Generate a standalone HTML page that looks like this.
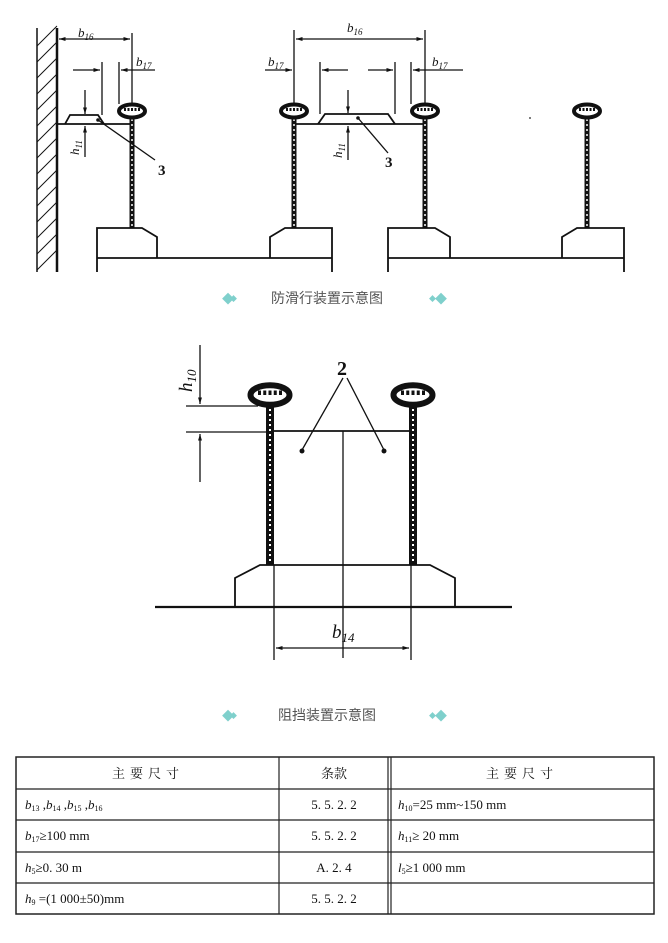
<!DOCTYPE html>
<html><head><meta charset="utf-8"><style>
html,body{margin:0;padding:0;background:#fff;}
body{width:668px;height:943px;overflow:hidden;position:relative;}
svg{position:absolute;left:0;top:0;}
text{font-family:"Liberation Serif","Noto Serif CJK SC",serif;fill:#111;}
.cap{font-family:"Liberation Sans","Noto Sans CJK SC",sans-serif;fill:#555;font-size:14px;}
</style></head><body>
<svg width="668" height="943" viewBox="0 0 668 943">
<defs>
<marker id="ar" viewBox="0 0 10 10" refX="10" refY="5" markerWidth="7" markerHeight="5" orient="auto-start-reverse"><path d="M0,2 L10,5 L0,8 z" fill="#111"/></marker>
<g id="rail">
 <ellipse cx="0" cy="0" rx="13" ry="6.5" fill="#fff" stroke="#111" stroke-width="4"/>
 <path d="M-8,-1.5 H8" stroke="#111" stroke-width="3" stroke-dasharray="2 1.5"/>
</g>
</defs>
<g stroke="#111" fill="none" stroke-width="1.3">
<line x1="37" y1="28" x2="37" y2="272" stroke-width="1.5"/>
<line x1="57" y1="28" x2="57" y2="272" stroke-width="2.5"/>
<g stroke-width="1">
<line x1="37" y1="46" x2="57" y2="26"/><line x1="37" y1="62" x2="57" y2="42"/><line x1="37" y1="78" x2="57" y2="58"/><line x1="37" y1="94" x2="57" y2="74"/><line x1="37" y1="110" x2="57" y2="90"/><line x1="37" y1="126" x2="57" y2="106"/><line x1="37" y1="142" x2="57" y2="122"/><line x1="37" y1="158" x2="57" y2="138"/><line x1="37" y1="174" x2="57" y2="154"/><line x1="37" y1="190" x2="57" y2="170"/><line x1="37" y1="206" x2="57" y2="186"/><line x1="37" y1="222" x2="57" y2="202"/><line x1="37" y1="238" x2="57" y2="218"/><line x1="37" y1="254" x2="57" y2="234"/><line x1="37" y1="270" x2="57" y2="250"/>
</g>
<line x1="57" y1="124" x2="132" y2="124" stroke-width="1.8"/>
<line x1="294" y1="124" x2="425" y2="124" stroke-width="1.8"/>
<path d="M65,124 L70,115 L98,115 L104,124" stroke-width="1.8"/>
<path d="M318,124 L325,114 L388,114 L395,124" stroke-width="1.8"/>
<g stroke-width="5"><line x1="132" y1="112" x2="132" y2="228"/><line x1="294" y1="112" x2="294" y2="228"/><line x1="425" y1="112" x2="425" y2="228"/><line x1="587" y1="112" x2="587" y2="228"/></g>
<g stroke="#fff" stroke-width="1.5" stroke-dasharray="2 3"><line x1="132" y1="114" x2="132" y2="226"/><line x1="294" y1="114" x2="294" y2="226"/><line x1="425" y1="114" x2="425" y2="226"/><line x1="587" y1="114" x2="587" y2="226"/></g>
<g stroke-width="1.8">
<path d="M97,272 V228 H142 L157,237 V258"/>
<path d="M270,258 V237 L285,228 H332 V272"/>
<line x1="97" y1="258" x2="332" y2="258"/>
<path d="M388,272 V228 H435 L450,237 V258"/>
<path d="M562,258 V237 L577,228 H624 V272"/>
<line x1="388" y1="258" x2="624" y2="258"/>
</g>
<line x1="132" y1="33" x2="132" y2="104"/>
<line x1="59" y1="39" x2="130" y2="39" marker-start="url(#ar)" marker-end="url(#ar)"/>
<line x1="294" y1="30" x2="294" y2="104"/>
<line x1="425" y1="30" x2="425" y2="104"/>
<line x1="296" y1="39" x2="423" y2="39" marker-start="url(#ar)" marker-end="url(#ar)"/>
<line x1="102" y1="62" x2="102" y2="115"/><line x1="119" y1="62" x2="119" y2="104"/>
<line x1="73" y1="70" x2="100" y2="70" marker-end="url(#ar)"/>
<line x1="155" y1="70" x2="121" y2="70" marker-end="url(#ar)"/>
<line x1="320" y1="62" x2="320" y2="114"/>
<line x1="265" y1="70" x2="292" y2="70" marker-end="url(#ar)"/>
<line x1="348" y1="70" x2="322" y2="70" marker-end="url(#ar)"/>
<line x1="395" y1="62" x2="395" y2="114"/><line x1="411" y1="62" x2="411" y2="104"/>
<line x1="368" y1="70" x2="393" y2="70" marker-end="url(#ar)"/>
<line x1="463" y1="70" x2="413" y2="70" marker-end="url(#ar)"/>
<line x1="85" y1="90" x2="85" y2="114" marker-end="url(#ar)"/>
<line x1="85" y1="157" x2="85" y2="126" marker-end="url(#ar)"/>
<line x1="348" y1="90" x2="348" y2="113" marker-end="url(#ar)"/>
<line x1="348" y1="160" x2="348" y2="126" marker-end="url(#ar)"/>
<line x1="98" y1="120" x2="155" y2="160"/>
<line x1="358" y1="118" x2="388" y2="153"/>
<line x1="155" y1="607" x2="512" y2="607" stroke-width="2.2"/>
<path d="M235,607 V578 L260,565 H430 L455,578 V607" stroke-width="1.8"/>
<line x1="274" y1="431" x2="410" y2="431" stroke-width="1.8"/>
<line x1="343" y1="431" x2="343" y2="658"/>
<g stroke-width="8"><line x1="270" y1="400" x2="270" y2="565"/><line x1="413" y1="400" x2="413" y2="565"/></g>
<g stroke="#fff" stroke-width="2" stroke-dasharray="2 3"><line x1="270" y1="404" x2="270" y2="562"/><line x1="413" y1="404" x2="413" y2="562"/></g>
<line x1="274" y1="565" x2="274" y2="660"/><line x1="411" y1="565" x2="411" y2="660"/>
<line x1="276" y1="648" x2="409" y2="648" marker-start="url(#ar)" marker-end="url(#ar)"/>
<line x1="200" y1="345" x2="200" y2="404" marker-end="url(#ar)"/>
<line x1="200" y1="482" x2="200" y2="434" marker-end="url(#ar)"/>
<line x1="186" y1="406" x2="258" y2="406"/>
<line x1="186" y1="432" x2="268" y2="432"/>
<line x1="343" y1="378" x2="302" y2="450"/>
<line x1="347" y1="378" x2="384" y2="450"/>
</g>
<circle cx="302" cy="451" r="2.5" fill="#111"/><circle cx="384" cy="451" r="2.5" fill="#111"/>
<circle cx="98" cy="120" r="1.8" fill="#111"/><circle cx="358" cy="118" r="1.8" fill="#111"/>
<circle cx="530" cy="118" r="1" fill="#555"/>
<use href="#rail" x="132" y="111"/><use href="#rail" x="294" y="111"/><use href="#rail" x="425" y="111"/><use href="#rail" x="587" y="111"/>
<g transform="translate(270,395) scale(1.5)"><use href="#rail"/></g>
<g transform="translate(413,395) scale(1.5)"><use href="#rail"/></g>
<g font-style="italic" font-size="13">
<text x="78" y="37">b<tspan font-size="9" dy="3">16</tspan></text>
<text x="136" y="66">b<tspan font-size="9" dy="3">17</tspan></text>
<text x="347" y="32">b<tspan font-size="9" dy="3">16</tspan></text>
<text x="268" y="66">b<tspan font-size="9" dy="3">17</tspan></text>
<text x="432" y="66">b<tspan font-size="9" dy="3">17</tspan></text>
<text transform="translate(79,155) rotate(-90)">h<tspan font-size="9" dy="3">11</tspan></text>
<text transform="translate(342,158) rotate(-90)">h<tspan font-size="9" dy="3">11</tspan></text>
</g>
<text x="158" y="175" font-size="15" font-weight="bold">3</text>
<text x="385" y="167" font-size="15" font-weight="bold">3</text>
<text transform="translate(192,392) rotate(-90)" font-size="19" font-style="italic">h<tspan font-size="13" dy="4">10</tspan></text>
<text x="337" y="375" font-size="20" font-weight="bold">2</text>
<text x="332" y="638" font-size="19" font-style="italic">b<tspan font-size="13" dy="4">14</tspan></text>
<text x="222" y="303" font-size="12" style="fill:#7fd0cc">◆</text><text x="230" y="301" font-size="7" style="fill:#7fd0cc">◆</text>
<text x="271" y="303" class="cap">防滑行装置示意图</text>
<text x="429" y="301" font-size="7" style="fill:#7fd0cc">◆</text><text x="435" y="303" font-size="12" style="fill:#7fd0cc">◆</text>
<text x="222" y="720" font-size="12" style="fill:#7fd0cc">◆</text><text x="230" y="718" font-size="7" style="fill:#7fd0cc">◆</text>
<text x="278" y="720" class="cap">阻挡装置示意图</text>
<text x="429" y="718" font-size="7" style="fill:#7fd0cc">◆</text><text x="435" y="720" font-size="12" style="fill:#7fd0cc">◆</text>
<g stroke="#222" fill="none" stroke-width="1.2">
<rect x="16" y="757" width="638" height="157" stroke-width="1.5"/>
<line x1="16" y1="789" x2="654" y2="789"/><line x1="16" y1="820" x2="654" y2="820"/><line x1="16" y1="852" x2="654" y2="852"/><line x1="16" y1="883" x2="654" y2="883"/>
<line x1="279" y1="757" x2="279" y2="914"/>
<line x1="388" y1="757" x2="388" y2="914"/><line x1="391" y1="757" x2="391" y2="914"/>
</g>
<g font-size="13">
<text x="148" y="778" text-anchor="middle" letter-spacing="5" font-family="Noto Serif CJK SC,serif">主要尺寸</text>
<text x="334" y="778" text-anchor="middle" font-family="Noto Serif CJK SC,serif">条款</text>
<text x="522" y="778" text-anchor="middle" letter-spacing="5" font-family="Noto Serif CJK SC,serif">主要尺寸</text>
<text x="25" y="809"><tspan font-style="italic">b</tspan><tspan font-size="8" dy="2">13</tspan><tspan dy="-2"> ,</tspan><tspan font-style="italic">b</tspan><tspan font-size="8" dy="2">14</tspan><tspan dy="-2"> ,</tspan><tspan font-style="italic">b</tspan><tspan font-size="8" dy="2">15</tspan><tspan dy="-2"> ,</tspan><tspan font-style="italic">b</tspan><tspan font-size="8" dy="2">16</tspan></text>
<text x="25" y="840"><tspan font-style="italic">b</tspan><tspan font-size="8" dy="2">17</tspan><tspan dy="-2">≥100 mm</tspan></text>
<text x="25" y="872"><tspan font-style="italic">h</tspan><tspan font-size="8" dy="2">5</tspan><tspan dy="-2">≥0. 30 m</tspan></text>
<text x="25" y="903"><tspan font-style="italic">h</tspan><tspan font-size="8" dy="2">9</tspan><tspan dy="-2"> =(1 000±50)mm</tspan></text>
<text x="334" y="809" text-anchor="middle">5. 5. 2. 2</text>
<text x="334" y="840" text-anchor="middle">5. 5. 2. 2</text>
<text x="334" y="872" text-anchor="middle">A. 2. 4</text>
<text x="334" y="903" text-anchor="middle">5. 5. 2. 2</text>
<text x="398" y="809"><tspan font-style="italic">h</tspan><tspan font-size="8" dy="2">10</tspan><tspan dy="-2">=25 mm~150 mm</tspan></text>
<text x="398" y="840"><tspan font-style="italic">h</tspan><tspan font-size="8" dy="2">11</tspan><tspan dy="-2">≥ 20 mm</tspan></text>
<text x="398" y="872"><tspan font-style="italic">l</tspan><tspan font-size="8" dy="2">5</tspan><tspan dy="-2">≥1 000 mm</tspan></text>
</g>
</svg>
</body></html>
